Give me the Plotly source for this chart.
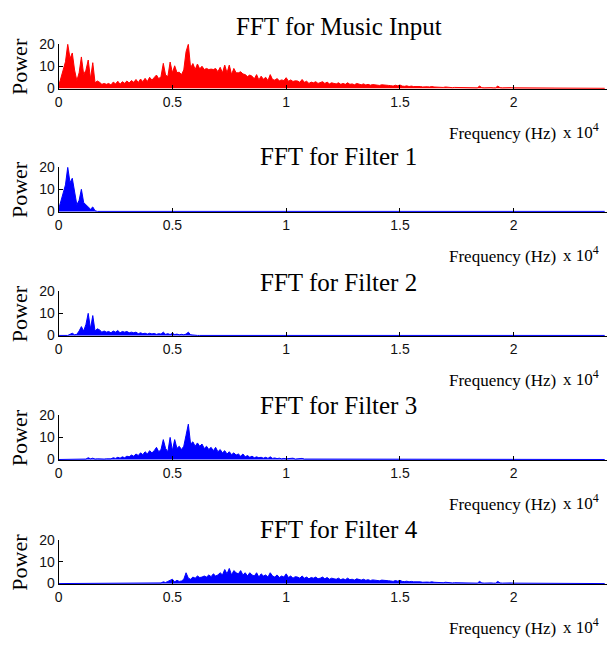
import numpy as np
import plotly.graph_objects as go

# ---------------- data (power spectra, 100 Hz bins) ----------------
STEP = 100
F_MAX = 24000

f1_start = 0
filter1 = [1, 5, 9, 12, 20, 13, 15, 8, 3, 5, 10, 4, 3, 2, 1, 2, 0.3]

f2_start = 500
filter2 = [0.5, 1, 0.3, 0.5, 2, 4, 2, 5, 10, 3, 9, 2, 3, 2.5, 1.5, 2, 1.5, 1.8, 1.2, 2,
           1.5, 2.2, 1.2, 1.8, 1.5, 1.8, 1.2, 1.5, 1.2, 1.5, 0.8, 1.2, 0.8, 1, 0.6, 1, 0.7,
           0.9, 0.5, 0.8, 0.6, 1.5, 0.5, 0.8, 0.4, 1, 0.4, 0.6, 0.3, 0.5, 0.3, 0.6, 1.5, 0.3, 0.2]

f3_start = 1000
filter3 = [0.2, 0.3, 0.2, 0.8, 0.3, 0.6, 0.2, 0.3, 0.2, 0.3,
           0.2, 0.3, 0.4, 0.3, 0.8, 0.5, 1, 0.6, 1.2, 0.8,
           1.5, 1.2, 2, 1.5, 2.5, 1.8, 3, 2.2, 3.5, 2.5,
           4, 3, 4, 5.5, 3.5, 4.5, 9, 5, 3.5, 10,
           4, 9, 5, 6, 4.5, 6, 11, 16, 7, 8,
           6, 7.5, 6, 7, 5, 6, 4.5, 5.5, 4, 5.5,
           3.5, 4.5, 3, 4, 2.5, 3.5, 2.2, 3, 2, 2.5,
           1.5, 2.5, 1.2, 1.8, 1, 1.5, 0.8, 1.2, 0.8, 1,
           0.6, 1, 0.5, 1.2, 0.5, 0.7, 0.4, 0.6, 0.3, 0.5,
           0.3, 0.4, 0.3, 0.6, 0.2, 0.3, 0.2, 0.5, 0.2, 0.2]

f4_start = 4500
filter4 = [0.3, 0.8, 0.5, 1, 1.5, 2, 0.8, 1.5, 1, 1.2,
           2, 5, 2.5, 2, 3, 2.5, 3.5, 2.8, 3, 3.5,
           3, 4, 3.2, 4.5, 3.5, 4, 5, 4, 6.5, 4.5,
           7, 4, 6, 5, 4.5, 6, 4, 5, 3.5, 5,
           4, 3.5, 5, 3, 4.5, 3.5, 4, 3, 5, 3.5,
           3, 4, 2.8, 3.5, 3, 4.5, 2.8, 3.5, 2.5, 3.2,
           3, 2.5, 3.5, 2.5, 3, 2.2, 2.8, 2.5, 3, 2.2,
           2.5, 3, 2.2, 2.8, 2, 2.5, 2.2, 2, 2.5, 1.8,
           2.2, 1.8, 2.5, 1.8, 2, 1.6, 2.2, 1.8, 1.6, 2,
           1.5, 1.8, 1.4, 1.7, 1.5, 1.6, 1.3, 1.6, 1.4, 1.2,
           1.3, 1.2, 1, 1.4, 1.1, 1.5, 1, 0.9, 1.1, 0.8,
           1, 0.8, 0.9, 0.7, 0.8, 0.6, 0.8, 0.7, 0.6, 0.8,
           0.6, 0.5, 0.7, 0.5, 0.4, 0.6, 0.4, 0.5, 0.3, 0.4,
           0.4, 0.3, 0.5, 0.3, 0.4, 0.3, 0.3, 0.4, 0.3, 0.2,
           1, 0.3, 0.2, 0.3, 0.2, 0.3, 0.2, 0.2, 1, 0.3,
           0.2, 0.3, 0.2, 0.2, 0.3, 0.2, 0.2, 0.2, 0.1, 0.2,
           0.2, 0.1, 0.2, 0.1, 0.1]

titles = ["FFT for Music Input", "FFT for Filter 1", "FFT for Filter 2",
          "FFT for Filter 3", "FFT for Filter 4"]
x_tickvals = [0, 5000, 10000, 15000, 20000]
x_ticktext = ["0", "0.5", "1", "1.5", "2"]
y_tickvals = [0, 10, 20]

# ---------------- build full-band spectra ----------------
freq = np.arange(0, F_MAX + STEP, STEP)


def full_band(start, vals):
    out = np.zeros(len(freq))
    i0 = start // STEP
    out[i0:i0 + len(vals)] = vals
    return out


bands = [full_band(f1_start, filter1), full_band(f2_start, filter2),
         full_band(f3_start, filter3), full_band(f4_start, filter4)]
music_input = bands[0] + bands[1] + bands[2] + bands[3]
series = [music_input] + bands
colors = ["#ff0000", "#0000ff", "#0000ff", "#0000ff", "#0000ff"]

# ---------------- layout geometry (pixels) ----------------
W, H = 607, 647
panel_top = [37, 163, 290, 417, 545]
panel_bot = [83, 209, 336, 463, 590]
title_y = [19, 152.5, 281.5, 406.5, 533.5]
x_left, x_right = 55, 607


def py(v):
    return 1 - v / H


def px(v):
    return v / W


fig = go.Figure()
annotations = []
serif = "Liberation Serif"
sans = "Liberation Sans"

for i in range(5):
    n = "" if i == 0 else str(i + 1)
    fig.add_trace(go.Scatter(
        x=freq, y=series[i], mode="lines",
        line=dict(color=colors[i], width=1),
        fill="tozeroy", fillcolor=colors[i],
        xaxis="x" + n, yaxis="y" + n, showlegend=False, hoverinfo="skip"))
    fig.layout["xaxis" + n] = dict(
        domain=[px(x_left), px(x_right)], range=[0, 24100], anchor="y" + n,
        tickvals=x_tickvals, ticktext=x_ticktext, ticks="inside", ticklen=4,
        tickcolor="black", showline=True, linecolor="black", linewidth=1,
        showgrid=False, zeroline=False,
        tickfont=dict(family=sans, size=14, color="#111111"))
    fig.layout["yaxis" + n] = dict(
        domain=[py(panel_bot[i]), py(panel_top[i])], range=[-0.35, 20], anchor="x" + n,
        tickvals=y_tickvals, ticks="inside", ticklen=4, tickcolor="black",
        showline=True, linecolor="black", linewidth=1,
        showgrid=False, zeroline=False,
        tickfont=dict(family=sans, size=14, color="#111111"))
    annotations.append(dict(
        text=titles[i], x=px(337), y=py(title_y[i]), xref="paper", yref="paper",
        xanchor="center", yanchor="middle", showarrow=False,
        font=dict(family=serif, size=25, color="black")))
    annotations.append(dict(
        text="Power", x=px(15.5), y=py((panel_top[i] + panel_bot[i]) / 2),
        xref="paper", yref="paper", textangle=-90,
        xanchor="center", yanchor="middle", showarrow=False,
        font=dict(family=serif, size=22, color="black")))
    annotations.append(dict(
        text="Frequency (Hz)", x=px(502), y=py(panel_bot[i] + 45),
        xref="paper", yref="paper", xanchor="center", yanchor="middle",
        showarrow=False, font=dict(family=serif, size=17, color="black")))
    annotations.append(dict(
        text="x 10<sup>4</sup>", x=px(561), y=py(panel_bot[i] + 43),
        xref="paper", yref="paper", xanchor="left", yanchor="middle",
        showarrow=False, font=dict(family=serif, size=17, color="black")))

fig.update_layout(
    width=W, height=H, margin=dict(l=0, r=0, t=0, b=0),
    paper_bgcolor="white", plot_bgcolor="white",
    annotations=annotations)

fig.write_html(
    "out.html",
    config={"displayModeBar": False},
    post_script="document.body.style.margin='0px';"
                "document.body.style.padding='0px';"
                "document.body.style.overflow='hidden';")
